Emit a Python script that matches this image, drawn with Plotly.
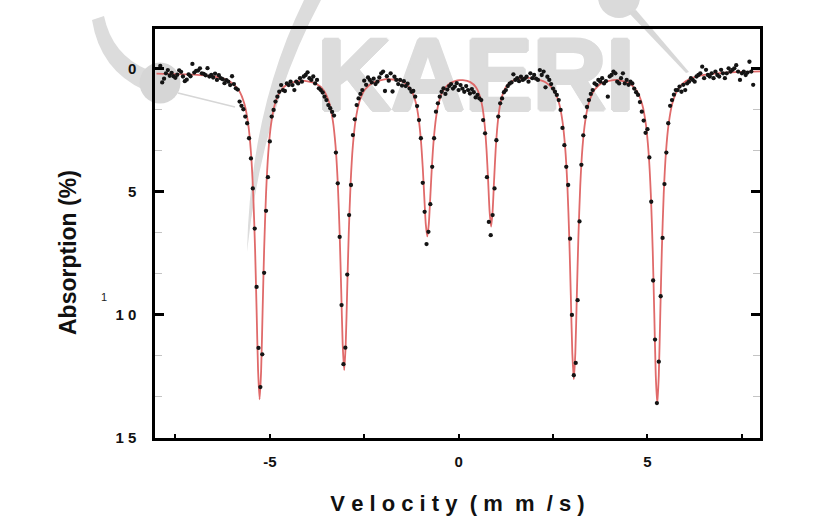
import numpy as np
import plotly.graph_objects as go

# ---------------- data ----------------
# Spectrometer channels are evenly spaced in velocity (mm/s)
channel_start = -7.90
channel_step = 0.05

# measured absorption (%) per channel, left to right
absorption = [
    # -7.90 .. -6.05
    -0.12, 0.55, 0.40, 0.18, 0.05, 0.28, 0.16, 0.30, 0.36, 0.24,
    0.06, 0.12, 0.31, 0.50, 0.44, 0.22, 0.30, -0.20, 0.15, 0.08,
    0.07, -0.02, 0.18, 0.20, 0.26, -0.03, 0.31, 0.25, 0.35, 0.19,
    0.45, 0.26, 0.38, 0.42, 0.58, 0.46, 0.52, 0.66,
    # -6.00 .. -4.75 (line 1)
    0.30, 0.62, 0.79, 0.84, 1.33, 1.50, 1.64, 1.94, 2.21, 2.82,
    3.64, 4.86, 6.49, 8.86, 11.34, 12.93, 11.60, 8.29, 5.77, 4.40,
    2.95, 1.94, 1.67, 1.33, 1.13, 0.93,
    # -4.70 .. -3.55
    0.66, 0.86, 0.90, 0.59, 0.66, 0.52, 0.66, 0.86, 0.52, 0.59,
    0.38, 0.52, 0.31, 0.25, 0.14, 0.38, 0.45, 0.31, 0.59, 0.45,
    0.79, 0.86, 0.96, 1.13,
    # -3.50 .. -2.55 (line 2)
    1.27, 1.47, 1.60, 1.75, 1.90, 3.40, 4.65, 6.83, 9.60, 12.00,
    11.33, 8.36, 5.94, 4.72, 2.69, 2.05, 1.47, 1.20, 1.02, 0.86,
    # -2.50 .. -1.20
    0.48, 0.65, 0.35, 0.45, 0.55, 0.40, 0.62, 0.52, 0.35, 0.18,
    0.11, 0.90, 0.30, 0.48, 0.18, 0.92, 0.32, 0.45, 0.62, 0.45,
    0.68, 0.50, 0.70, 0.60, 0.80, 0.93, 0.90,
    # -1.15 .. -0.50 (line 3)
    1.13, 1.51, 2.08, 2.82, 4.63, 5.81, 7.12, 6.62, 5.50, 3.98,
    2.82, 1.74, 1.40, 1.13,
    # -0.45 .. 0.55
    0.93, 0.79, 1.02, 0.84, 0.70, 0.62, 0.80, 0.72, 0.58, 0.86,
    0.66, 0.80, 0.93, 0.70, 0.86, 1.00, 0.82, 0.95, 1.16, 1.06,
    1.20,
    # 0.60 .. 1.25 (line 4)
    1.27, 2.08, 2.62, 4.40, 6.22, 6.76, 5.94, 4.86, 2.90, 1.94,
    1.40, 1.20, 0.95, 0.86,
    # 1.30 .. 2.65
    0.70, 0.60, 0.55, 0.22, 0.45, 0.38, 0.50, 0.32, 0.45, 0.40,
    0.32, 0.52, 0.18, 0.38, 0.25, 0.40, 0.45, 0.05, 0.25, 0.11,
    0.75, 0.32, 0.45, 0.62, 0.80, 0.93, 1.06, 1.27,
    # 2.70 .. 3.50 (line 5)
    1.67, 2.40, 3.10, 3.98, 4.72, 6.90, 10.00, 12.45, 11.95, 9.40,
    6.20, 3.90, 2.70, 1.95, 1.55, 1.27, 1.02,
    # 3.55 .. 4.70
    0.86, 0.59, 0.65, 0.45, 0.52, 0.38, 0.59, 0.50, 1.13, 0.31,
    0.25, 0.11, 0.18, 0.52, 0.59, 0.38, 0.18, 0.59, 0.45, 0.65,
    0.52, 0.59, 0.80, 0.95,
    # 4.75 .. 5.75 (line 6)
    1.06, 1.35, 1.74, 2.10, 2.60, 2.45, 3.60, 5.40, 8.60, 11.00,
    13.58, 11.90, 9.24, 6.87, 4.68, 3.40, 2.21, 1.50, 1.27, 1.05,
    0.86,
    # 5.80 .. 7.80
    0.86, 0.72, 0.93, 0.65, 0.86, 0.59, 0.52, 0.38, 0.45, 0.52,
    0.31, 0.25, 0.18, -0.09, 0.38, 0.04, 0.25, 0.31, 0.18, 0.38,
    0.11, 0.25, 0.31, 0.04, 0.18, 0.38, 0.18, -0.02, 0.11, 0.04,
    -0.02, -0.15, 0.11, 0.45, 0.18, 0.11, 0.25, 0.15, -0.29, 0.11,
    0.65,
]
velocity = np.round(channel_start + channel_step * np.arange(len(absorption)), 2)
assert len(absorption) == 315

# fitted curve (red line)
fit_velocity = [
    -8.00, -7.00, -6.50, -6.25,
    -6.02, -5.82, -5.67, -5.57, -5.50, -5.44, -5.39, -5.35, -5.31, -5.27,
    -5.23, -5.19, -5.15, -5.10, -5.04, -4.97, -4.87, -4.72, -4.52,
    -4.15,
    -3.78, -3.58, -3.43, -3.33, -3.26, -3.20, -3.15, -3.11, -3.07, -3.03,
    -2.99, -2.95, -2.91, -2.86, -2.80, -2.73, -2.63, -2.48, -2.28,
    -1.92,
    -1.58, -1.38, -1.23, -1.13, -1.06, -1.00, -0.95, -0.91, -0.87, -0.83,
    -0.79, -0.75, -0.71, -0.66, -0.60, -0.53, -0.43, -0.28, -0.08,
    0.02,
    0.11, 0.31, 0.46, 0.56, 0.63, 0.69, 0.74, 0.78, 0.82, 0.86,
    0.90, 0.94, 0.98, 1.03, 1.09, 1.16, 1.26, 1.41, 1.61,
    1.96,
    2.30, 2.50, 2.65, 2.75, 2.82, 2.88, 2.93, 2.97, 3.01, 3.05,
    3.09, 3.13, 3.17, 3.22, 3.28, 3.35, 3.45, 3.60, 3.80,
    4.17,
    4.51, 4.71, 4.86, 4.96, 5.03, 5.09, 5.14, 5.18, 5.22, 5.26,
    5.30, 5.34, 5.38, 5.43, 5.49, 5.56, 5.66, 5.81, 6.01,
    6.25, 6.50, 7.00, 8.00,
]
fit_absorption = [
    0.19, 0.23, 0.30, 0.39,
    0.55, 0.87, 1.44, 2.27, 3.38, 5.06, 7.33, 9.79, 12.28, 13.43,
    12.28, 9.79, 7.34, 5.08, 3.40, 2.29, 1.46, 0.91, 0.61,
    0.48,
    0.60, 0.86, 1.36, 2.11, 3.12, 4.65, 6.71, 8.94, 11.20, 12.24,
    11.20, 8.93, 6.70, 4.64, 3.11, 2.10, 1.35, 0.84, 0.57,
    0.42,
    0.47, 0.63, 0.94, 1.40, 2.00, 2.88, 4.02, 5.19, 6.31, 6.81,
    6.31, 5.19, 4.02, 2.88, 2.00, 1.40, 0.94, 0.64, 0.49,
    0.46,
    0.46, 0.54, 0.75, 1.09, 1.55, 2.28, 3.32, 4.51, 5.79, 6.41,
    5.78, 4.49, 3.30, 2.27, 1.53, 1.06, 0.72, 0.50, 0.39,
    0.38,
    0.54, 0.83, 1.35, 2.13, 3.18, 4.76, 6.89, 9.19, 11.54, 12.61,
    11.54, 9.20, 6.89, 4.76, 3.18, 2.14, 1.37, 0.85, 0.57,
    0.45,
    0.58, 0.88, 1.44, 2.28, 3.41, 5.12, 7.42, 9.92, 12.46, 13.63,
    12.46, 9.92, 7.41, 5.10, 3.39, 2.25, 1.40, 0.82, 0.50,
    0.33, 0.24, 0.16, 0.105,
]

x_tick_values = [-5, 0, 5]
x_tick_labels = ["-5", "0", "5"]
y_tick_values = [0, 5, 10, 15]
y_tick_labels = ["0", "5", "1 0", "1 5"]

# ---------------- layout helpers ----------------
W, H = 821, 532
PL, PR, PT, PB = 155, 760, 29, 438   # plot area in px
PW, PH = PR - PL, PB - PT
X_RANGE = [-8.04, 7.98]
Y_RANGE = [15.0, -1.62]


def px(xp):
    return (xp - PL) / PW


def py(yp):
    return (PB - yp) / PH


def data_x(xp):
    return X_RANGE[0] + px(xp) * (X_RANGE[1] - X_RANGE[0])


def data_y(yp):
    return Y_RANGE[0] + py(yp) * (Y_RANGE[1] - Y_RANGE[0])


def circle_path(cx, cy, r):
    k = 0.5523 * r
    pts = [
        f"M {px(cx + r)},{py(cy)}",
        f"C {px(cx + r)},{py(cy + k)} {px(cx + k)},{py(cy + r)} {px(cx)},{py(cy + r)}",
        f"C {px(cx - k)},{py(cy + r)} {px(cx - r)},{py(cy + k)} {px(cx - r)},{py(cy)}",
        f"C {px(cx - r)},{py(cy - k)} {px(cx - k)},{py(cy - r)} {px(cx)},{py(cy - r)}",
        f"C {px(cx + k)},{py(cy - r)} {px(cx + r)},{py(cy - k)} {px(cx + r)},{py(cy)}",
        "Z",
    ]
    return " ".join(pts)


FONT = "Liberation Sans, Arial, Helvetica, sans-serif"
WM = "#dcdcdc"

fig = go.Figure()

# watermark logo disc and word, drawn first so the data sit on top of them
fig.add_trace(go.Scatter(
    x=[data_x(160)], y=[data_y(83)], mode="markers",
    marker=dict(size=41, color="#d6d6d6", line=dict(width=0)),
    cliponaxis=False, hoverinfo="skip", name="logo",
))
wm_shadow = ", ".join(f"{dx}px {dy}px 0 {WM}" for dx, dy in
                      [(2, 0), (-2, 0), (0, 2), (0, -2), (1, 1), (-1, -1), (1, -1), (-1, 1)])
fig.add_trace(go.Scatter(
    x=[data_x(476)], y=[data_y(84)], mode="text", text=["KAERI"],
    textposition="middle center",
    textfont=dict(family=FONT, size=102, weight="bold", color=WM, shadow=wm_shadow),
    hoverinfo="skip", name="watermark",
))
fig.add_trace(go.Scatter(
    x=fit_velocity, y=fit_absorption, mode="lines",
    line=dict(color="#e06a6a", width=1.8, shape="spline", smoothing=0.6),
    hoverinfo="skip", name="fit",
))
fig.add_trace(go.Scatter(
    x=velocity, y=absorption, mode="markers",
    marker=dict(color="#141414", size=4.3),
    name="data",
))

# watermark decorations (logo swoosh, small disc, thin strokes)
shapes = []
swoosh = (f"M {px(321)},{py(0)} Q {px(262)},{py(110)} {px(247)},{py(252)} "
          f"Q {px(250)},{py(110)} {px(304)},{py(0)} Z")
shapes.append(dict(type="path", path=swoosh, xref="paper", yref="paper",
                   fillcolor=WM, line=dict(width=0), layer="below"))
band = (f"M {px(104)},{py(16)} Q {px(112)},{py(55)} {px(148)},{py(70)} "
        f"L {px(144)},{py(90)} Q {px(100)},{py(70)} {px(92)},{py(20)} Z")
shapes.append(dict(type="path", path=band, xref="paper", yref="paper",
                   fillcolor=WM, line=dict(width=0), layer="below"))
shapes.append(dict(type="line", xref="paper", yref="paper",
                   x0=px(178), y0=py(93), x1=px(235), y1=py(107),
                   line=dict(color="#d6d6d6", width=1.5), layer="below"))
shapes.append(dict(type="path", path=circle_path(619, -3, 21),
                   xref="paper", yref="paper",
                   fillcolor="#dadada", line=dict(width=0), layer="below"))
thin = (f"M {px(628)},{py(12)} L {px(636)},{py(10)} L {px(689)},{py(72)} "
        f"L {px(686)},{py(73)} Z")
shapes.append(dict(type="path", path=thin, xref="paper", yref="paper",
                   fillcolor="#d8d8d8", line=dict(width=0), layer="below"))

annotations = [
    dict(text="Absorption (%)", xref="paper", yref="paper",
         x=px(68), y=py(253), xanchor="center", yanchor="middle",
         textangle=-90, showarrow=False,
         font=dict(family=FONT, size=23, weight="bold", color="#111")),
    dict(text="1", xref="paper", yref="paper", x=px(103.5), y=py(297),
         xanchor="center", yanchor="middle", showarrow=False,
         font=dict(family=FONT, size=11, color="#222")),
]

# letter-spaced axis title, as in the reference ("Velocity (m m /s)")
nb = "\u00a0"
x_title = nb.join(["V", "e", "l", "o", "c", "i", "t", "y", nb + "(", "m",
                   nb + "m", nb + "/", "s", ")"])

fig.update_layout(
    width=W, height=H,
    margin=dict(l=PL, r=W - PR, t=PT, b=H - PB, pad=0),
    paper_bgcolor="white", plot_bgcolor="white",
    showlegend=False,
    font=dict(family=FONT, color="#111"),
    shapes=shapes, annotations=annotations,
    xaxis=dict(
        range=X_RANGE, showgrid=False, zeroline=False,
        showline=True, linecolor="black", linewidth=2.5, mirror=True,
        tickmode="array", tickvals=x_tick_values, ticktext=x_tick_labels,
        ticks="inside", ticklen=4, tickwidth=2, tickcolor="black",
        minor=dict(tickmode="linear", tick0=0, dtick=2.5, ticks="inside",
                   ticklen=4, tickwidth=2, tickcolor="black"),
        tickfont=dict(family=FONT, size=15, weight="bold", color="#111"),
        ticklabelstandoff=8,
        title=dict(text=x_title, standoff=27,
                   font=dict(family=FONT, size=22, weight="bold", color="#111")),
    ),
    yaxis=dict(
        range=Y_RANGE, showgrid=False, zeroline=False,
        showline=True, linecolor="black", linewidth=2.5, mirror="ticks",
        tickmode="array", tickvals=y_tick_values, ticktext=y_tick_labels,
        ticks="inside", ticklen=9, tickwidth=2.5, tickcolor="black",
        minor=dict(tickmode="linear", tick0=0, dtick=5 / 3, ticks="inside",
                   ticklen=7, tickwidth=1, tickcolor="#c4c4c4"),
        tickfont=dict(family=FONT, size=15, weight="bold", color="#111"),
        ticklabelstandoff=13,
    ),
)

fig.write_html("out.html")
